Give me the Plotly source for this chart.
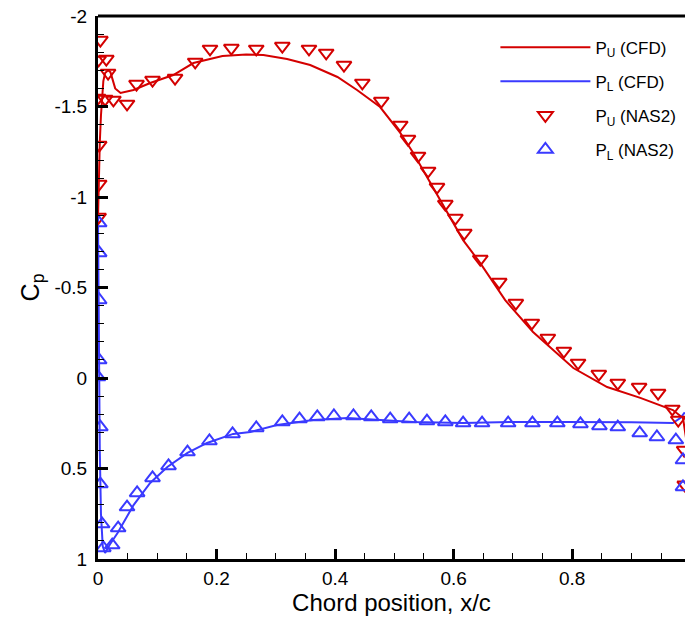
import plotly.graph_objects as go

# Upper surface, CFD
pu_cfd_x = [0.0, 0.001, 0.003, 0.005, 0.007, 0.009, 0.012, 0.017, 0.021, 0.024, 0.029, 0.038,
            0.060, 0.088, 0.127, 0.161, 0.210, 0.250, 0.279, 0.319, 0.358, 0.404, 0.437, 0.476,
            0.493, 0.510, 0.532, 0.561, 0.589, 0.616, 0.645, 0.687, 0.734, 0.802, 0.859, 0.915,
            0.970, 0.987, 0.993, 1.0]
pu_cfd_cp = [-0.88, -1.10, -1.30, -1.45, -1.57, -1.64, -1.685, -1.70, -1.69, -1.657, -1.60, -1.575,
             -1.591, -1.630, -1.674, -1.740, -1.779, -1.787, -1.785, -1.762, -1.729, -1.663, -1.591, -1.497,
             -1.425, -1.354, -1.243, -1.077, -0.912, -0.762, -0.635, -0.430, -0.254, -0.055, 0.050, 0.110,
             0.177, 0.221, 0.35, 0.45]

# Lower surface, CFD
pl_cfd_x = [0.0, 0.001, 0.002, 0.003, 0.005, 0.008, 0.012, 0.020, 0.033, 0.060, 0.088, 0.117,
            0.151, 0.184, 0.228, 0.257, 0.302, 0.363, 0.421, 0.476, 0.532, 0.616, 0.700, 0.785,
            0.842, 0.900, 0.970, 0.983, 0.990]
pl_cfd_cp = [-0.88, -0.40, 0.0, 0.40, 0.75, 0.93, 0.967, 0.92, 0.856, 0.702, 0.580, 0.492,
             0.414, 0.359, 0.309, 0.298, 0.260, 0.232, 0.221, 0.232, 0.243, 0.249, 0.243, 0.243,
             0.243, 0.245, 0.249, 0.22, 0.19]

# Upper surface, NAS2 measurements
pu_exp_x = [0.004, 0.001, 0.014, 0.017, 0.000, 0.012, 0.026, 0.049, 0.002, 0.002, 0.001, 0.065,
            0.092, 0.130, 0.164, 0.189, 0.225, 0.267, 0.311, 0.356, 0.385, 0.415, 0.446, 0.478,
            0.510, 0.523, 0.540, 0.557, 0.572, 0.586, 0.603, 0.618, 0.645, 0.677, 0.705, 0.732,
            0.759, 0.786, 0.810, 0.845, 0.877, 0.913, 0.945, 0.969, 0.979, 0.989, 0.990]
pu_exp_cp = [-1.867, -1.757, -1.762, -1.685, -1.547, -1.541, -1.536, -1.514, -1.287, -1.072, -0.889, -1.624,
             -1.646, -1.657, -1.746, -1.818, -1.823, -1.818, -1.834, -1.818, -1.796, -1.729, -1.630, -1.530,
             -1.398, -1.320, -1.227, -1.144, -1.055, -0.961, -0.884, -0.801, -0.657, -0.530, -0.414, -0.304,
             -0.221, -0.149, -0.083, -0.022, 0.028, 0.050, 0.083, 0.171, 0.232, 0.398, 0.59]

# Lower surface, NAS2 measurements
pl_exp_x = [0.002, 0.002, 0.002, 0.002, 0.000, 0.004, 0.004, 0.007, 0.009, 0.024, 0.034, 0.049,
            0.066, 0.092, 0.119, 0.151, 0.188, 0.227, 0.267, 0.311, 0.340, 0.370, 0.398, 0.431,
            0.461, 0.493, 0.525, 0.555, 0.586, 0.616, 0.648, 0.692, 0.733, 0.775, 0.814, 0.846,
            0.877, 0.914, 0.943, 0.975, 0.987, 0.987]
pl_exp_cp = [-0.856, -0.691, -0.431, -0.099, -0.006, 0.271, 0.586, 0.807, 0.939, 0.923, 0.829, 0.713,
             0.635, 0.552, 0.486, 0.409, 0.348, 0.309, 0.276, 0.243, 0.227, 0.215, 0.210, 0.210,
             0.215, 0.227, 0.227, 0.238, 0.243, 0.249, 0.249, 0.249, 0.249, 0.249, 0.254, 0.265,
             0.271, 0.304, 0.326, 0.343, 0.453, 0.602]

x_ticks = [0, 0.2, 0.4, 0.6, 0.8, 1]
y_ticks = [-2, -1.5, -1, -0.5, 0, 0.5, 1]

RED = "#d40000"
BLUE = "#3a3aff"
FONT = "Arial, Liberation Sans, sans-serif"

fig = go.Figure()
fig.add_trace(go.Scatter(x=pu_cfd_x, y=pu_cfd_cp, mode="lines", name="P<sub>U</sub> (CFD)",
                         legendgroup="a", line=dict(color=RED, width=2)))
fig.add_trace(go.Scatter(x=pl_cfd_x, y=pl_cfd_cp, mode="lines", name="P<sub>L</sub> (CFD)",
                         legendgroup="b", line=dict(color=BLUE, width=2)))
fig.add_trace(go.Scatter(x=pu_exp_x, y=pu_exp_cp, mode="markers", name="P<sub>U</sub> (NAS2)",
                         legendgroup="c",
                         marker=dict(symbol="triangle-down-open", size=13, color=RED,
                                     line=dict(width=2, color=RED))))
fig.add_trace(go.Scatter(x=pl_exp_x, y=pl_exp_cp, mode="markers", name="P<sub>L</sub> (NAS2)",
                         legendgroup="d",
                         marker=dict(symbol="triangle-up-open", size=13, color=BLUE,
                                     line=dict(width=2, color=BLUE))))

axis_common = dict(
    showgrid=False, zeroline=False, showline=True, linecolor="black", linewidth=3,
    ticks="inside", ticklen=10, tickwidth=2.5, tickcolor="black",
    tickfont=dict(family=FONT, size=19, color="black"),
)

fig.update_layout(
    width=685, height=618,
    margin=dict(l=98, r=0, t=16, b=59),
    plot_bgcolor="white", paper_bgcolor="white",
    showlegend=True,
    legend=dict(x=0.677, y=0.975, xanchor="left", yanchor="top",
                font=dict(family=FONT, size=17, color="black"),
                bgcolor="rgba(0,0,0,0)", itemwidth=90, tracegroupgap=9),
    xaxis=dict(range=[0, 0.9904], tickvals=x_ticks, ticktext=[str(v) for v in x_ticks],
               minor=dict(ticks="inside", ticklen=6, tickwidth=1, tickcolor="black", dtick=0.05),
               title=dict(text="Chord position, x/c", font=dict(family=FONT, size=24, color="black"),
                          standoff=4),
               **axis_common),
    yaxis=dict(range=[1, -2], tickvals=y_ticks, ticktext=[f"{v:g}" for v in y_ticks],
               ticklabelstandoff=4,
               minor=dict(ticks="inside", ticklen=6, tickwidth=1, tickcolor="black", dtick=0.1),
               title=dict(text="C<sub>p</sub>", font=dict(family=FONT, size=25, color="black"),
                          standoff=8),
               **axis_common),
)

# frame line along the top edge
fig.add_shape(type="line", xref="paper", yref="paper", x0=0, x1=1, y0=1, y1=1,
              line=dict(color="black", width=3))

fig.write_html("out.html")
